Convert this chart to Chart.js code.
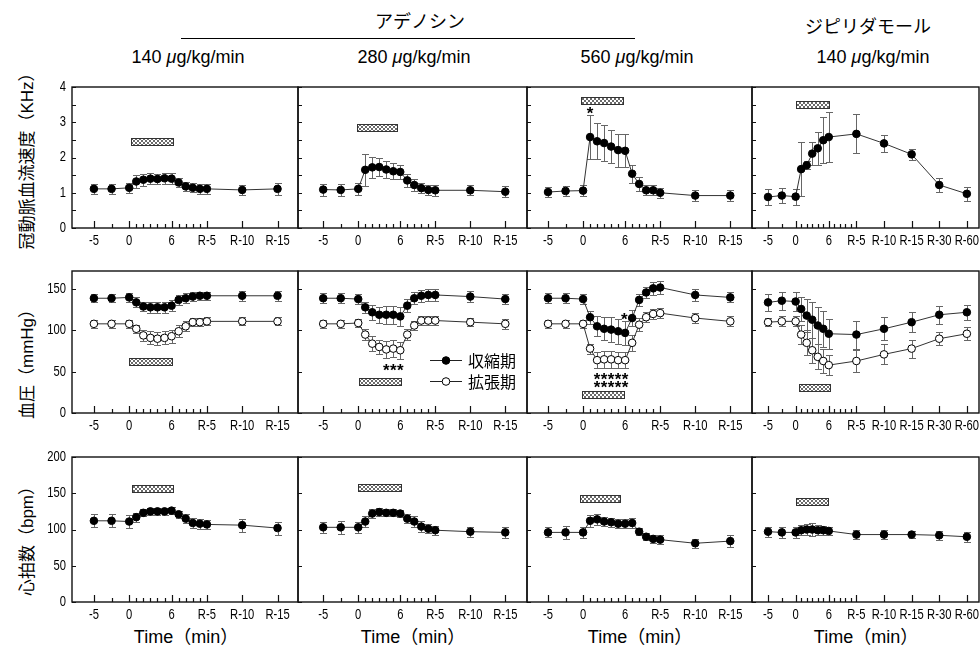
<!DOCTYPE html>
<html>
<head>
<meta charset="utf-8">
<script src="https://cdn.jsdelivr.net/npm/chart.js@4.4.1/dist/chart.umd.min.js"></script>
<style>
  body { margin: 0; background: #fff; }
  #wrap { position: relative; width: 980px; height: 650px; overflow: hidden; background: #fff;
          font-family: 'Liberation Sans', Arial, 'Noto Sans CJK JP', sans-serif; color: #000; }
  .t { position: absolute; transform: translate(-50%, -50%); white-space: nowrap; }
  .yt { position: absolute; transform: translate(-50%, -50%) rotate(-90deg); white-space: nowrap; font-size: 17px; }
  canvas { position: absolute; }
</style>
</head>
<body>
<div id="wrap">
  <div class="t" style="left:420px;top:20px;font-size:18px">アデノシン</div>
  <div style="position:absolute;left:181px;top:38px;width:454px;border-top:1px solid #000"></div>
  <div class="t" style="left:868px;top:25px;font-size:18px">ジピリダモール</div>
  <div class="t" style="left:188px;top:57px;font-size:18px">140 <i>μ</i>g/kg/min</div>
  <div class="t" style="left:414px;top:57px;font-size:18px">280 <i>μ</i>g/kg/min</div>
  <div class="t" style="left:637px;top:57px;font-size:18px">560 <i>μ</i>g/kg/min</div>
  <div class="t" style="left:873px;top:57px;font-size:18px">140 <i>μ</i>g/kg/min</div>

  <div class="yt" style="left:25px;top:157px">冠動脈血流速度（KHz）</div>
  <div class="yt" style="left:25px;top:360px">血圧（mmHg）</div>
  <div class="yt" style="left:25px;top:537px">心拍数（bpm）</div>

  <div class="t" style="left:186px;top:635px;font-size:18px">Time（min）</div>
  <div class="t" style="left:413px;top:635px;font-size:18px">Time（min）</div>
  <div class="t" style="left:640px;top:635px;font-size:18px">Time（min）</div>
  <div class="t" style="left:866px;top:635px;font-size:18px">Time（min）</div>
</div>

<script>
// --- time axis (min), recovery points R-5.. placed after 6 ---
const timeAdeno = [-5, -2.5, 0, 1, 2, 3, 4, 5, 6, 7, 8, 9, 10, 11, 16, 21];
const timeDipy = [-5, -2.5, 0, 1, 2, 3, 4, 5, 6, 11, 16, 21, 26, 31];
const tickPosAdeno = [-5, 0, 6, 11, 16, 21];
const tickTextAdeno = ['-5', '0', '6', 'R-5', 'R-10', 'R-15'];
const tickPosDipy = [-5, 0, 6, 11, 16, 21, 26, 31];
const tickTextDipy = ['-5', '0', '6', 'R-5', 'R-10', 'R-15', 'R-30', 'R-60'];
const minorTicks = [-2.5, 1, 2, 3, 4, 5, 7, 8, 9, 10];

// --- coronary flow velocity (KHz) ---
const flow140 = [1.11, 1.11, 1.14, 1.32, 1.37, 1.40, 1.39, 1.41, 1.40, 1.29, 1.18, 1.14, 1.11, 1.11, 1.08, 1.11];
const flow140Err = [0.14, 0.14, 0.15, 0.18, 0.17, 0.15, 0.15, 0.15, 0.16, 0.14, 0.13, 0.13, 0.14, 0.15, 0.14, 0.16];
const flow280 = [1.09, 1.08, 1.11, 1.65, 1.72, 1.73, 1.66, 1.61, 1.59, 1.35, 1.22, 1.13, 1.08, 1.07, 1.07, 1.03];
const flow280Err = [0.17, 0.16, 0.17, 0.45, 0.30, 0.26, 0.25, 0.22, 0.20, 0.19, 0.17, 0.15, 0.14, 0.15, 0.14, 0.16];
const flow560 = [1.02, 1.05, 1.06, 2.58, 2.46, 2.41, 2.31, 2.21, 2.19, 1.54, 1.25, 1.07, 1.07, 1.00, 0.92, 0.92];
const flow560Err = [0.15, 0.15, 0.15, 0.63, 0.51, 0.52, 0.48, 0.47, 0.47, 0.26, 0.20, 0.14, 0.14, 0.14, 0.16, 0.15];
const flowDipy = [0.88, 0.92, 0.89, 1.67, 1.78, 2.11, 2.26, 2.49, 2.58, 2.67, 2.40, 2.09, 1.22, 0.97];
const flowDipyErr = [0.23, 0.22, 0.23, 0.77, 0.12, 0.32, 0.47, 0.65, 0.70, 0.55, 0.25, 0.15, 0.20, 0.20];

// --- blood pressure (mmHg): systolic / diastolic ---
const sys140 = [139, 139, 140, 134, 129, 128, 128, 128, 130, 137, 139, 141, 142, 142, 142, 142];
const sys140Err = [5, 5, 5, 6, 6, 7, 7, 7, 7, 6, 6, 5, 5, 5, 6, 6];
const dia140 = [108, 108, 108, 102, 94, 91, 90, 91, 93, 99, 105, 110, 110, 111, 111, 111];
const dia140Err = [5, 5, 5, 5, 7, 8, 8, 8, 8, 7, 6, 5, 5, 5, 5, 5];
const sys280 = [139, 139, 138, 128, 122, 119, 119, 119, 117, 130, 139, 142, 143, 143, 141, 138];
const sys280Err = [6, 6, 6, 7, 9, 10, 11, 11, 12, 8, 7, 7, 7, 7, 7, 6];
const dia280 = [108, 108, 109, 95, 84, 80, 77, 78, 76, 95, 106, 112, 112, 112, 110, 108];
const dia280Err = [5, 5, 5, 7, 9, 9, 10, 10, 10, 7, 6, 5, 5, 5, 5, 6];
const sys560 = [139, 139, 138, 116, 105, 102, 101, 99, 97, 115, 137, 146, 151, 152, 143, 140];
const sys560Err = [6, 6, 6, 8, 12, 14, 15, 15, 15, 10, 7, 7, 8, 8, 7, 6];
const dia560 = [108, 108, 108, 78, 64, 65, 65, 64, 64, 85, 107, 116, 120, 121, 115, 111];
const dia560Err = [5, 5, 5, 6, 10, 10, 10, 10, 10, 10, 8, 6, 6, 6, 6, 6];
const sysDipy = [134, 136, 135, 126, 118, 113, 106, 102, 96, 95, 102, 110, 119, 122];
const sysDipyErr = [10, 11, 11, 15, 20, 22, 22, 22, 18, 17, 14, 12, 11, 9];
const diaDipy = [110, 111, 111, 95, 85, 76, 68, 63, 58, 63, 71, 78, 90, 96];
const diaDipyErr = [5, 6, 6, 12, 15, 15, 15, 14, 12, 13, 12, 11, 8, 8];

// --- heart rate (bpm) ---
const hr140 = [112, 112, 111, 117, 123, 125, 125, 125, 126, 121, 115, 109, 108, 107, 106, 102];
const hr140Err = [9, 9, 9, 6, 5, 5, 5, 5, 5, 5, 6, 7, 7, 6, 9, 9];
const hr280 = [103, 103, 103, 111, 122, 124, 123, 123, 122, 115, 111, 104, 101, 99, 97, 96];
const hr280Err = [8, 9, 8, 8, 6, 5, 5, 5, 5, 6, 7, 8, 6, 6, 7, 8];
const hr560 = [96, 96, 96, 112, 114, 111, 110, 108, 108, 109, 97, 90, 87, 86, 81, 84];
const hr560Err = [7, 9, 8, 8, 8, 6, 6, 6, 6, 7, 5, 5, 5, 6, 6, 8];
const hrDipy = [97, 96, 96, 99, 100, 100, 99, 99, 98, 93, 93, 93, 92, 90];
const hrDipyErr = [7, 8, 8, 7, 8, 9, 7, 6, 6, 6, 6, 5, 6, 7];

// --- infusion bars [start, end, level] per column ---
const infusionFlow = [[0.2, 6.2, 2.45], [-0.2, 5.6, 2.86], [-0.3, 5.7, 3.63], [0, 6.1, 3.51]];
const infusionBP = [[0, 6, 62], [0.1, 6.1, 38], [-0.1, 5.9, 22.7], [0.6, 6.3, 31]];
const infusionHR = [[0.4, 6.2, 157], [0, 6.1, 158.6], [-0.4, 5.3, 143], [0.1, 5.8, 138]];

// --- significance marks [time, level] ---
const starsFlow560 = [[1, 3.37]];
const starsBP280 = [[4, 57], [5, 57], [6, 57]];
const starsBP560 = [[5.9, 119], [2, 46], [3, 46], [4, 46], [5, 46], [6, 46], [2, 36], [3, 36], [4, 36], [5, 36], [6, 36]];

const yMax = [4, 172, 200];
const yLabels = [[0, 1, 2, 3, 4], [0, 50, 100, 150], [0, 50, 100, 150, 200]];
const yStep = [0.5, 50, 50];

// layout in page pixels
const COL_X = [72, 298, 527, 752, 979];
const ROW_Y = [[87, 228], [271, 413], [457, 602]];
const X_RANGE = [[-8.1, 23.9], [-8.6, 24.1], [-8.0, 24.1], [-7.9, 33.2]];

const TICK_FONT = '14px "Liberation Sans", Arial, sans-serif';
Chart.defaults.font.family = "'Liberation Sans', Arial, sans-serif";
Chart.defaults.color = '#000';

const hatch = (() => {
  const c = document.createElement('canvas');
  c.width = 4; c.height = 4;
  const g = c.getContext('2d');
  g.fillStyle = '#fff'; g.fillRect(0, 0, 4, 4);
  g.fillStyle = '#6a6a6a';
  [[0, 0], [1, 1], [2, 2], [3, 3], [3, 0], [2, 1], [1, 2], [0, 3]].forEach(([a, b]) => g.fillRect(a, b, 1, 1));
  return c;
})();

// condensed text, like the narrow face in the original figure
function narrowText(ctx, text, px, py, align) {
  ctx.save();
  ctx.translate(px, py);
  ctx.scale(0.8, 1);
  ctx.textAlign = align;
  ctx.textBaseline = 'middle';
  ctx.fillText(text, 0, 0);
  ctx.restore();
}

const panelPlugin = {
  id: 'panel',
  beforeDatasetsDraw(chart) {
    const { ctx, scales: { x, y } } = chart;
    ctx.save();
    ctx.strokeStyle = '#666';
    ctx.lineWidth = 1;
    chart.data.datasets.forEach(ds => {
      ds.data.forEach((p, i) => {
        const px = Math.round(x.getPixelForValue(p.x)) + 0.5;
        const top = Math.round(y.getPixelForValue(p.y + ds.err[i])) + 0.5;
        const bot = Math.round(y.getPixelForValue(p.y - ds.err[i])) + 0.5;
        ctx.beginPath();
        ctx.moveTo(px, top); ctx.lineTo(px, bot);
        ctx.moveTo(px - 3.5, top); ctx.lineTo(px + 3.5, top);
        ctx.moveTo(px - 3.5, bot); ctx.lineTo(px + 3.5, bot);
        ctx.stroke();
      });
    });
    ctx.restore();
  },
  afterDraw(chart, args, opts) {
    const { ctx, chartArea: a, scales: { x, y } } = chart;
    ctx.save();

    // infusion bar
    const [b0, b1, bl] = opts.bar;
    const bx0 = Math.round(x.getPixelForValue(b0)) + 0.5;
    const bx1 = Math.round(x.getPixelForValue(b1)) + 0.5;
    const by = Math.round(y.getPixelForValue(bl) - 3.5) + 0.5;
    ctx.fillStyle = ctx.createPattern(hatch, 'repeat');
    ctx.fillRect(bx0, by, bx1 - bx0, 7);
    ctx.strokeStyle = '#333';
    ctx.lineWidth = 1;
    ctx.strokeRect(bx0, by, bx1 - bx0, 7);

    // frame
    ctx.strokeStyle = '#111';
    ctx.lineWidth = 1.4;
    ctx.strokeRect(a.left, a.top, a.right - a.left, a.bottom - a.top);

    // inward ticks
    ctx.lineWidth = 1.2;
    ctx.beginPath();
    x.ticks.forEach(t => {
      const px = Math.round(x.getPixelForValue(t.value)) + 0.5;
      ctx.moveTo(px, a.bottom); ctx.lineTo(px, a.bottom - 7);
    });
    minorTicks.forEach(v => {
      const px = Math.round(x.getPixelForValue(v)) + 0.5;
      ctx.moveTo(px, a.bottom); ctx.lineTo(px, a.bottom - 4);
    });
    for (let v = 0; v <= y.max + 1e-6; v += opts.yStep) {
      const py = Math.round(y.getPixelForValue(v)) + 0.5;
      ctx.moveTo(a.left, py); ctx.lineTo(a.left + 4, py);
    }
    ctx.stroke();

    // tick labels from the scales' own ticks
    ctx.fillStyle = '#000';
    ctx.font = TICK_FONT;
    x.ticks.forEach(t => narrowText(ctx, t.label, x.getPixelForValue(t.value), a.bottom + 13, 'center'));
    if (opts.yLabels) {
      y.ticks.forEach(t => narrowText(ctx, t.label, a.left - 6, y.getPixelForValue(t.value), 'right'));
    }

    // significance stars
    ctx.font = 'bold 17px "Liberation Sans", Arial, sans-serif';
    ctx.textAlign = 'center';
    ctx.textBaseline = 'alphabetic';
    (opts.stars || []).forEach(([t, v]) => {
      ctx.fillText('*', x.getPixelForValue(t), y.getPixelForValue(v) + 10);
    });

    // legend
    if (opts.legend) {
      const lx = a.left + 132, items = [['収縮期', '#000', a.top + 89], ['拡張期', '#fff', a.top + 110]];
      items.forEach(([label, fill, ly]) => {
        ctx.strokeStyle = '#222'; ctx.lineWidth = 1;
        ctx.beginPath(); ctx.moveTo(lx, ly + 0.5); ctx.lineTo(lx + 32, ly + 0.5); ctx.stroke();
        ctx.beginPath(); ctx.arc(lx + 16, ly + 0.5, 3.8, 0, Math.PI * 2);
        ctx.fillStyle = fill; ctx.fill(); ctx.strokeStyle = '#000'; ctx.stroke();
        ctx.fillStyle = '#000';
        ctx.font = '16px "Noto Sans CJK JP", sans-serif';
        ctx.textAlign = 'left'; ctx.textBaseline = 'middle';
        ctx.fillText(label, lx + 38, ly + 1);
      });
    }
    ctx.restore();
  }
};

const wrap = document.getElementById('wrap');

function makePanel(row, col, series, bar, stars, legend) {
  const dipy = col === 3;
  const time = dipy ? timeDipy : timeAdeno;
  const tickPos = dipy ? tickPosDipy : tickPosAdeno;
  const tickText = dipy ? tickTextDipy : tickTextAdeno;
  const ml = col === 0 ? 42 : 6, mr = dipy ? 12 : 6, mt = 10, mb = 30;
  const [x0, x1] = [COL_X[col], COL_X[col + 1]];
  const [y0, y1] = ROW_Y[row];
  const w = x1 - x0 + ml + mr, h = y1 - y0 + mt + mb;
  const cv = document.createElement('canvas');
  cv.width = w; cv.height = h;
  cv.style.left = (x0 - ml) + 'px';
  cv.style.top = (y0 - mt) + 'px';
  cv.style.width = w + 'px';
  cv.style.height = h + 'px';
  wrap.appendChild(cv);

  const datasets = series.map(([vals, errs, open]) => ({
    data: time.map((t, i) => ({ x: t, y: vals[i] })),
    err: errs,
    borderColor: '#333',
    borderWidth: 1,
    pointRadius: 3.8,
    pointHoverRadius: 3.8,
    pointBackgroundColor: open ? '#fff' : '#000',
    pointBorderColor: '#000',
    pointBorderWidth: 1,
    tension: 0,
    fill: false
  }));

  new Chart(cv, {
    type: 'line',
    data: { datasets },
    options: {
      responsive: false,
      animation: false,
      devicePixelRatio: 1,
      events: [],
      layout: { padding: { top: mt, right: mr, left: 0, bottom: 0 } },
      plugins: {
        legend: { display: false },
        tooltip: { enabled: false },
        panel: { bar, stars, legend, yStep: yStep[row], yLabels: col === 0 }
      },
      scales: {
        x: {
          type: 'linear',
          min: X_RANGE[col][0],
          max: X_RANGE[col][1],
          afterFit: s => { s.height = mb; },
          afterBuildTicks: s => { s.ticks = tickPos.map(v => ({ value: v })); },
          ticks: {
            display: false, autoSkip: false, maxRotation: 0,
            callback: v => tickText[tickPos.indexOf(v)]
          },
          grid: { display: false, drawTicks: false },
          border: { display: false }
        },
        y: {
          min: 0,
          max: yMax[row],
          afterFit: s => { s.width = ml; },
          afterBuildTicks: s => { s.ticks = yLabels[row].map(v => ({ value: v })); },
          ticks: { display: false, callback: v => String(v) },
          grid: { display: false, drawTicks: false },
          border: { display: false }
        }
      }
    },
    plugins: [panelPlugin]
  });
}

// row 1: coronary flow
makePanel(0, 0, [[flow140, flow140Err, false]], infusionFlow[0], []);
makePanel(0, 1, [[flow280, flow280Err, false]], infusionFlow[1], []);
makePanel(0, 2, [[flow560, flow560Err, false]], infusionFlow[2], starsFlow560);
makePanel(0, 3, [[flowDipy, flowDipyErr, false]], infusionFlow[3], []);
// row 2: blood pressure
makePanel(1, 0, [[sys140, sys140Err, false], [dia140, dia140Err, true]], infusionBP[0], []);
makePanel(1, 1, [[sys280, sys280Err, false], [dia280, dia280Err, true]], infusionBP[1], starsBP280, true);
makePanel(1, 2, [[sys560, sys560Err, false], [dia560, dia560Err, true]], infusionBP[2], starsBP560);
makePanel(1, 3, [[sysDipy, sysDipyErr, false], [diaDipy, diaDipyErr, true]], infusionBP[3], []);
// row 3: heart rate
makePanel(2, 0, [[hr140, hr140Err, false]], infusionHR[0], []);
makePanel(2, 1, [[hr280, hr280Err, false]], infusionHR[1], []);
makePanel(2, 2, [[hr560, hr560Err, false]], infusionHR[2], []);
makePanel(2, 3, [[hrDipy, hrDipyErr, false]], infusionHR[3], []);
</script>
</body>
</html>
